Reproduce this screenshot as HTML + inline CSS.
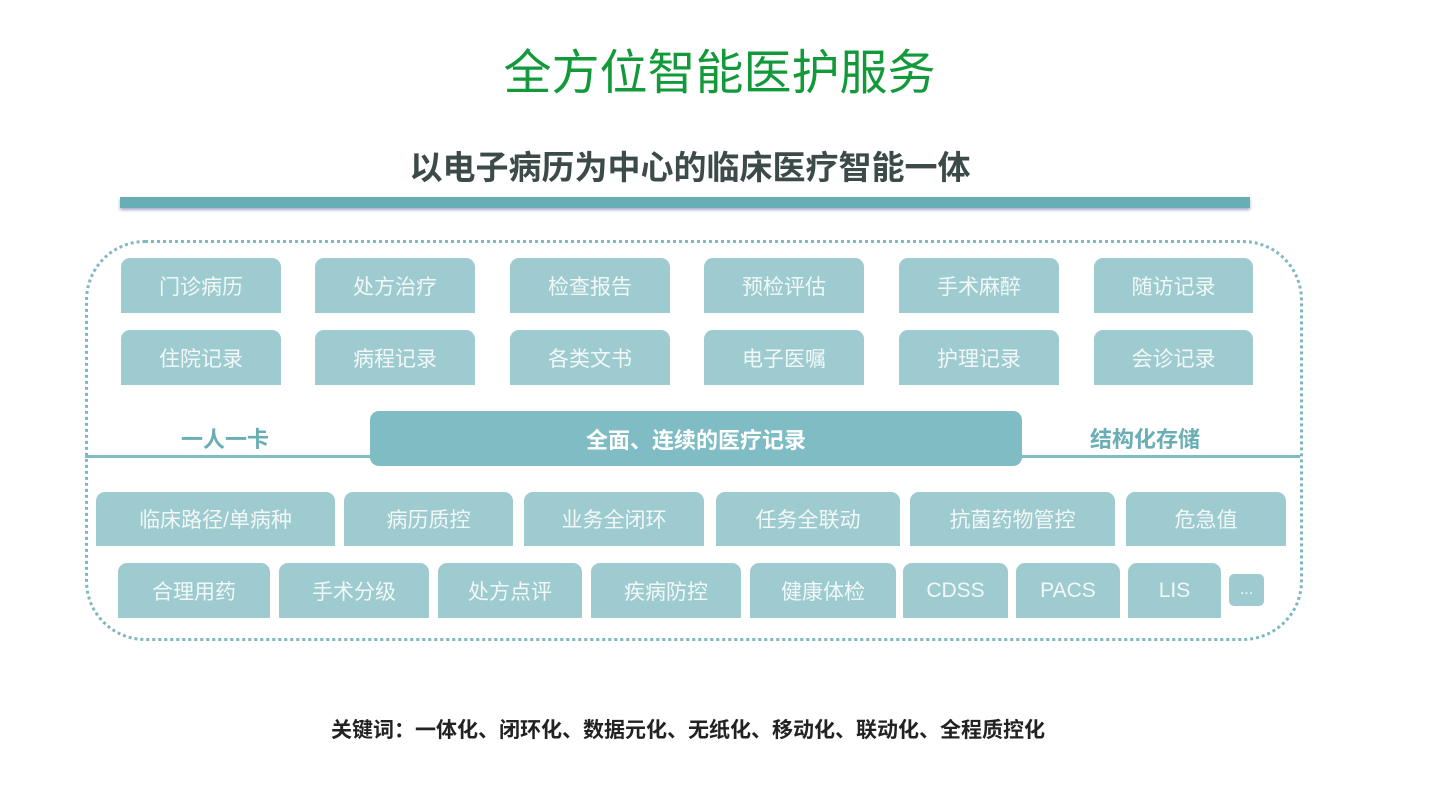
<!DOCTYPE html>
<html><head><meta charset="utf-8"><style>
body{margin:0;width:1439px;height:810px;background:#fff;position:relative;overflow:hidden;font-family:"Liberation Sans","Noto Sans CJK SC",sans-serif}
.a{position:absolute}
.b{position:absolute;background:#9ecbcf;border-radius:9px 9px 0 0;color:#f2f8f8;font-size:21px;display:flex;align-items:center;justify-content:center}
.r1{top:258px;height:55px}.r2{top:330px;height:55px}.r3{top:492px;height:54px}.r4{top:563px;height:55px}
</style></head><body>
<div class="a" style="left:0;width:1439px;top:44px;text-align:center;color:#12993a;font-size:48px;line-height:60px">全方位智能医护服务</div>
<div class="a" style="left:320px;width:740px;top:146px;text-align:center;color:#3c4a4a;font-size:33px;line-height:44px;font-weight:bold">以电子病历为中心的临床医疗智能一体</div>
<div class="a" style="left:120px;top:197px;width:1130px;height:11px;background:#6aaeb5;box-shadow:0 2px 3px #aac"></div>
<div class="a" style="left:85px;top:240px;width:1212px;height:395px;border:3px dotted #7fb9c0;border-radius:60px"></div>
<div class="b r1" style="left:121px;width:160px">门诊病历</div>
<div class="b r1" style="left:315px;width:160px">处方治疗</div>
<div class="b r1" style="left:510px;width:160px">检查报告</div>
<div class="b r1" style="left:704px;width:160px">预检评估</div>
<div class="b r1" style="left:899px;width:160px">手术麻醉</div>
<div class="b r1" style="left:1094px;width:159px">随访记录</div>
<div class="b r2" style="left:121px;width:160px">住院记录</div>
<div class="b r2" style="left:315px;width:160px">病程记录</div>
<div class="b r2" style="left:510px;width:160px">各类文书</div>
<div class="b r2" style="left:704px;width:160px">电子医嘱</div>
<div class="b r2" style="left:899px;width:160px">护理记录</div>
<div class="b r2" style="left:1094px;width:159px">会诊记录</div>
<div class="a" style="left:85px;top:455px;width:1215px;height:3px;background:#80bcc4"></div>
<div class="a" style="left:370px;top:411px;width:652px;height:55px;background:#80bcc4;border-radius:9px;color:#fff;font-size:22px;font-weight:bold;display:flex;align-items:center;justify-content:center">全面、连续的医疗记录</div>
<div class="a" style="left:150px;width:150px;top:422px;text-align:center;color:#6aaeb5;font-size:22px;font-weight:bold">一人一卡</div>
<div class="a" style="left:1060px;width:170px;top:422px;text-align:center;color:#6aaeb5;font-size:22px;font-weight:bold">结构化存储</div>
<div class="b r3" style="left:96px;width:239px">临床路径/单病种</div>
<div class="b r3" style="left:344px;width:169px">病历质控</div>
<div class="b r3" style="left:524px;width:180px">业务全闭环</div>
<div class="b r3" style="left:716px;width:184px">任务全联动</div>
<div class="b r3" style="left:910px;width:205px">抗菌药物管控</div>
<div class="b r3" style="left:1126px;width:160px">危急值</div>
<div class="b r4" style="left:118px;width:152px">合理用药</div>
<div class="b r4" style="left:279px;width:150px">手术分级</div>
<div class="b r4" style="left:438px;width:144px">处方点评</div>
<div class="b r4" style="left:591px;width:150px">疾病防控</div>
<div class="b r4" style="left:750px;width:146px">健康体检</div>
<div class="b r4" style="left:903px;width:105px">CDSS</div>
<div class="b r4" style="left:1016px;width:104px">PACS</div>
<div class="b r4" style="left:1128px;width:93px">LIS</div>
<div class="b" style="left:1229px;top:574px;width:35px;height:32px;border-radius:5px;font-size:16px">...</div>
<div class="a" style="left:288px;width:800px;top:714px;text-align:center;color:#222;font-size:21px;font-weight:bold">关键词：一体化、闭环化、数据元化、无纸化、移动化、联动化、全程质控化</div>
</body></html>
